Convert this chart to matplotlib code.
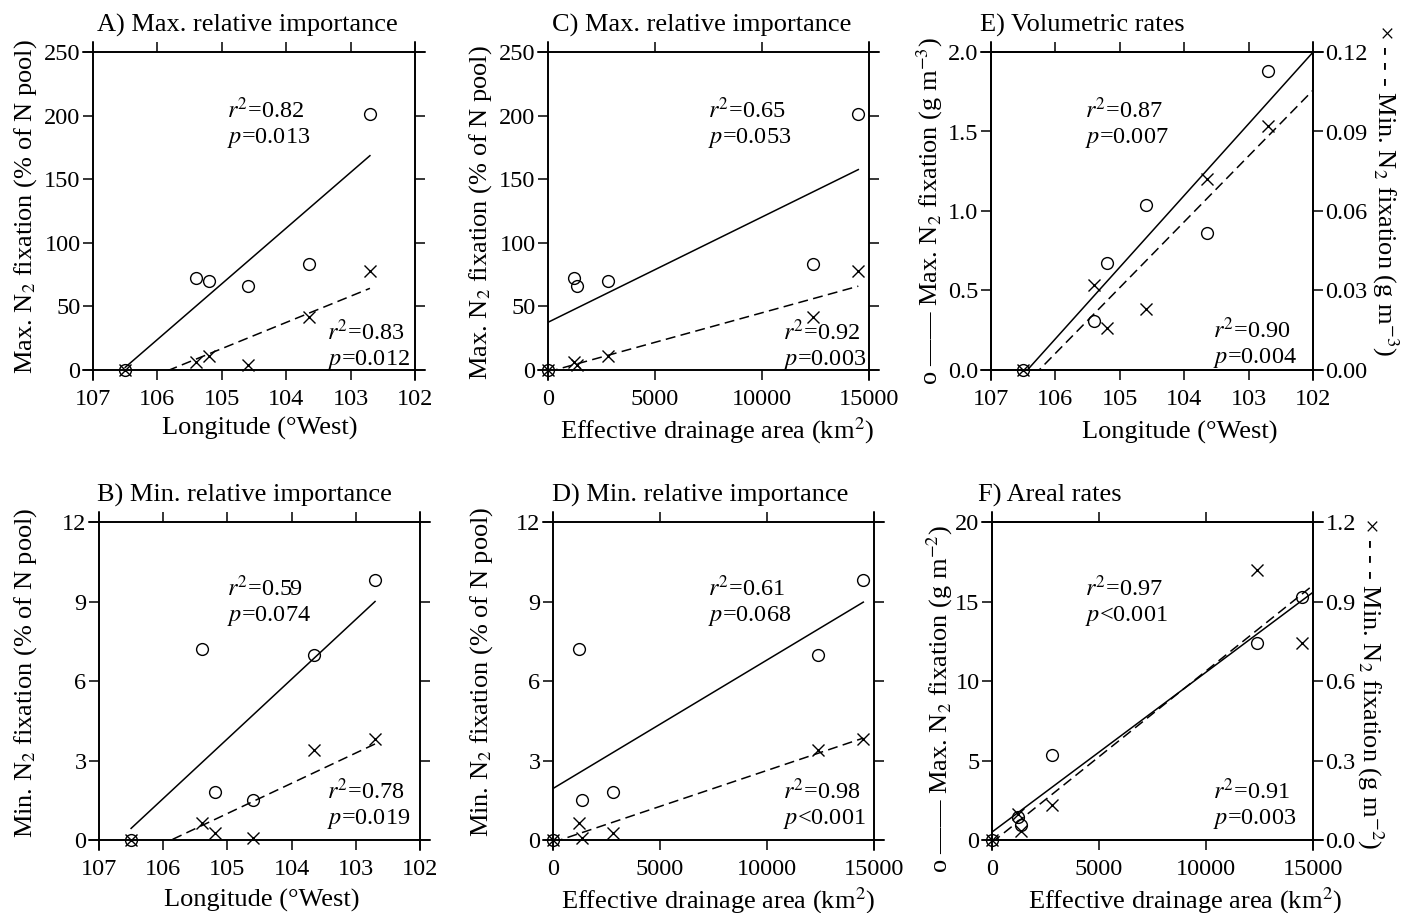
import numpy as np
import matplotlib
matplotlib.use("Agg")
import matplotlib.pyplot as plt

plt.rcParams['font.family'] = ['Liberation Serif', 'DejaVu Serif']
plt.rcParams['mathtext.fontset'] = 'stix'
plt.rcParams['font.size'] = 17

# six sampling sites, west -> east
longitude = [106.5, 105.4, 105.2, 104.6, 103.65, 102.7]
drainage_area = [0, 1200, 2800, 1350, 12400, 14500]   # km2

# relative importance (% of N pool)
max_rel_o = [0, 72, 70, 66, 83, 201]
max_rel_x = [0, 6, 11, 4, 42, 78]
min_rel_o = [0, 7.2, 1.8, 1.5, 7.0, 9.8]
min_rel_x = [0, 0.65, 0.28, 0.09, 3.4, 3.8]

# volumetric rates (g m-3): max on left axis, min on right axis
vol_max = [0, 0.31, 0.67, 1.04, 0.86, 1.88]
vol_min = [0, 0.032, 0.016, 0.023, 0.072, 0.092]

# areal rates (g m-2)
areal_max = [0, 1.45, 5.35, 0.95, 12.37, 15.3]
areal_min = [0, 0.10, 0.132, 0.035, 1.02, 0.744]

lon_ticks = [107, 106, 105, 104, 103, 102]
area_ticks = [0, 5000, 10000, 15000]

fig = plt.figure(figsize=(14.01, 9.13), dpi=100)
W, H = 1401, 913
TICK_FS = 17.5


def make_axes(left, right, top, bottom):
    return fig.add_axes([left / W, (H - bottom) / H, (right - left) / W, (bottom - top) / H])


def frame(ax, xlim, xticks, ylim, yticks, right=True):
    ax.set_xlim(*xlim)
    ax.set_xticks(xticks)
    ax.set_ylim(*ylim)
    ax.set_yticks(yticks)
    ax.tick_params(direction='out', length=7.5, width=1.1, top=True, right=right,
                   labeltop=False, labelright=False, labelsize=TICK_FS)
    ax.tick_params(axis='x', pad=6)
    ax.tick_params(axis='y', pad=1.5)
    for s in ax.spines.values():
        s.set_linewidth(1.2)
    # frame lines run a little past the corners
    pos = ax.get_position()
    ex = 10 / (pos.width * W)
    ey = 10 / (pos.height * H)
    kw = dict(transform=ax.transAxes, clip_on=False, color='k', lw=1.2)
    ax.plot([-ex, 1 + ex], [0, 0], **kw)
    ax.plot([-ex, 1 + ex], [1, 1], **kw)
    ax.plot([0, 0], [-ey, 1 + ey], **kw)
    ax.plot([1, 1], [-ey, 1 + ey], **kw)


def right_axis(ax, ylim, yticks, labels):
    ax2 = ax.twinx()
    ax2.set_ylim(*ylim)
    ax2.set_yticks(yticks)
    ax2.set_yticklabels(labels)
    ax2.tick_params(direction='out', length=7.5, width=1.1, labelsize=TICK_FS, pad=1.5)
    for s in ax2.spines.values():
        s.set_linewidth(1.2)
    return ax2


def points(ax, x, y, marker):
    if marker == 'o':
        ax.plot(x, y, 'o', mfc='none', mec='k', ms=8.5, mew=1.0, ls='none', clip_on=False)
    else:
        ax.plot(x, y, 'x', color='k', ms=8.5, mew=1.0, ls='none', clip_on=False)


def fit(ax, x, y, xr, dashed=False):
    m, b = np.polyfit(x, y, 1)
    xs = np.array(xr, dtype=float)
    if dashed:
        ax.plot(xs, m * xs + b, color='k', lw=1.1, dashes=(6.5, 3.5))
    else:
        ax.plot(xs, m * xs + b, color='k', lw=1.1)


def stats(ax, x, y, r2, p):
    ax.text(x, y, '$r^2$=' + r2, transform=ax.transAxes, ha='left', va='baseline', fontsize=17.5)
    ax.text(x, y - 0.078, '$p$' + p, transform=ax.transAxes, ha='left', va='baseline', fontsize=17.5)


def title(ax, x, s):
    ax.text(x, 1.065, s, transform=ax.transAxes, ha='left', va='baseline', fontsize=19)


def ylab(ax, s, x, y, rot=90):
    ax.set_ylabel(s, fontsize=19, rotation=rot, ha='center', va='center')
    ax.yaxis.set_label_coords(x, y)


def xlab(ax, s, x, y):
    ax.set_xlabel(s, fontsize=19, ha='center', va='center')
    ax.xaxis.set_label_coords(x, y)


# ---- A) Max. relative importance vs longitude
axA = make_axes(93, 415, 52, 370)
frame(axA, (107, 102), lon_ticks, (0, 250), [0, 50, 100, 150, 200, 250])
fit(axA, longitude, max_rel_o, [106.5, 102.7])
fit(axA, longitude, max_rel_x, [106.5, 102.7], dashed=True)
points(axA, longitude, max_rel_o, 'o')
points(axA, longitude, max_rel_x, 'x')
stats(axA, 0.416, 0.792, '0.82', '=0.013')
stats(axA, 0.726, 0.094, '0.83', '=0.012')
title(axA, 0.012, 'A) Max. relative importance')
ylab(axA, 'Max. N$_2$ fixation (% of N pool)', -0.21, 0.515)
xlab(axA, 'Longitude (°West)', 0.519, -0.185)

# ---- C) Max. relative importance vs drainage area
axC = make_axes(548, 869, 52, 370)
frame(axC, (0, 15000), area_ticks, (0, 250), [0, 50, 100, 150, 200, 250])
fit(axC, drainage_area, max_rel_o, [0, 14500])
fit(axC, drainage_area, max_rel_x, [0, 14500], dashed=True)
points(axC, drainage_area, max_rel_o, 'o')
points(axC, drainage_area, max_rel_x, 'x')
stats(axC, 0.5, 0.792, '0.65', '=0.053')
stats(axC, 0.733, 0.094, '0.92', '=0.003')
title(axC, 0.012, 'C) Max. relative importance')
ylab(axC, 'Max. N$_2$ fixation (% of N pool)', -0.209, 0.494)
xlab(axC, 'Effective drainage area (km$^2$)', 0.527, -0.19)

# ---- E) Volumetric rates vs longitude
axE = make_axes(991, 1313, 52, 370)
frame(axE, (107, 102), lon_ticks, (0, 2.0), [0, 0.5, 1.0, 1.5, 2.0], right=False)
axE.set_yticklabels(['0.0', '0.5', '1.0', '1.5', '2.0'])
axE2 = right_axis(axE, (0, 0.12), [0, 0.03, 0.06, 0.09, 0.12],
                  ['0.00', '0.03', '0.06', '0.09', '0.12'])
fit(axE, longitude, vol_max, [106.5, 102])
fit(axE2, longitude, vol_min, [106.5, 102], dashed=True)
points(axE, longitude, vol_max, 'o')
points(axE2, longitude, vol_min, 'x')
stats(axE, 0.292, 0.792, '0.87', '=0.007')
stats(axE, 0.69, 0.1, '0.90', '=0.004')
title(axE, -0.034, 'E) Volumetric rates')
ylab(axE, 'o —— Max. N$_2$ fixation (g m$^{-3}$)', -0.19, 0.5)
ylab(axE2, '× - - - Min. N$_2$ fixation (g m$^{-3}$)', 1.224, 0.566, rot=270)
xlab(axE, 'Longitude (°West)', 0.587, -0.195)

# ---- B) Min. relative importance vs longitude
axB = make_axes(99, 420, 522, 840)
frame(axB, (107, 102), lon_ticks, (0, 12), [0, 3, 6, 9, 12])
fit(axB, longitude, min_rel_o, [106.5, 102.7])
fit(axB, longitude, min_rel_x, [106.5, 102.7], dashed=True)
points(axB, longitude, min_rel_o, 'o')
points(axB, longitude, min_rel_x, 'x')
stats(axB, 0.398, 0.768, '0.59', '=0.074')
stats(axB, 0.709, 0.129, '0.78', '=0.019')
title(axB, -0.006, 'B) Min. relative importance')
ylab(axB, 'Min. N$_2$ fixation (% of N pool)', -0.23, 0.525)
xlab(axB, 'Longitude (°West)', 0.507, -0.19)

# ---- D) Min. relative importance vs drainage area
axD = make_axes(553, 874, 522, 840)
frame(axD, (0, 15000), area_ticks, (0, 12), [0, 3, 6, 9, 12])
fit(axD, drainage_area, min_rel_o, [0, 14500])
fit(axD, drainage_area, min_rel_x, [0, 14500], dashed=True)
points(axD, drainage_area, min_rel_o, 'o')
points(axD, drainage_area, min_rel_x, 'x')
stats(axD, 0.484, 0.768, '0.61', '=0.068')
stats(axD, 0.717, 0.129, '0.98', '<0.001')
title(axD, -0.003, 'D) Min. relative importance')
ylab(axD, 'Min. N$_2$ fixation (% of N pool)', -0.224, 0.53)
xlab(axD, 'Effective drainage area (km$^2$)', 0.515, -0.19)

# ---- F) Areal rates vs drainage area
axF = make_axes(992, 1313, 522, 840)
frame(axF, (0, 15000), area_ticks, (0, 20), [0, 5, 10, 15, 20], right=False)
axF2 = right_axis(axF, (0, 1.2), [0, 0.3, 0.6, 0.9, 1.2],
                  ['0.0', '0.3', '0.6', '0.9', '1.2'])
fit(axF, drainage_area, areal_max, [0, 15000])
fit(axF2, drainage_area, areal_min, [0, 15000], dashed=True)
points(axF, drainage_area, areal_max, 'o')
points(axF2, drainage_area, areal_min, 'x')
stats(axF, 0.29, 0.768, '0.97', '<0.001')
stats(axF, 0.69, 0.129, '0.91', '=0.003')
title(axF, -0.044, 'F) Areal rates')
ylab(axF, 'o —— Max. N$_2$ fixation (g m$^{-2}$)', -0.162, 0.443)
ylab(axF2, '× - - - Min. N$_2$ fixation (g m$^{-2}$)', 1.178, 0.494, rot=270)
xlab(axF, 'Effective drainage area (km$^2$)', 0.6, -0.19)

fig.savefig('out.png', dpi=100)
